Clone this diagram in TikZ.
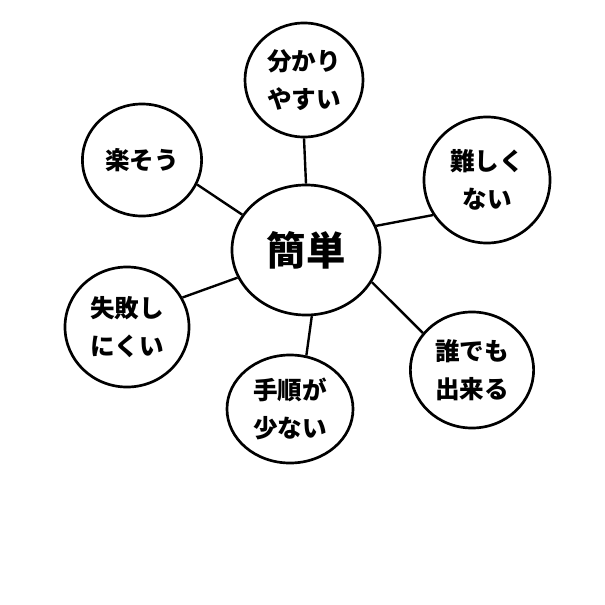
\documentclass[tikz,border=0pt]{standalone}
\usepackage{fontspec}
\newfontfamily\jp{Noto Sans CJK JP}
\usetikzlibrary{shapes.geometric}
\tikzset{
  hub/.style={draw,ellipse,line width=1.9pt,inner sep=0pt,
    minimum width=3.7cm,minimum height=3.25cm,
    font=\jp\bfseries\fontsize{28}{28}\selectfont},
  idea/.style={draw,ellipse,line width=1.9pt,inner sep=0pt,align=center,
    font=\jp\bfseries\fontsize{17.5}{27}\selectfont},
  link/.style={line width=1.7pt}
}
\begin{document}
\begin{tikzpicture}[x=0.025cm,y=-0.025cm]
    \useasboundingbox (0,0) rectangle (605,605);
    \node[hub] (kantan) at (306,250) {簡単};
    % surrounding ideas: name/x/y/width/height/text
    \foreach \name/\x/\y/\w/\h/\txt in {
      wakari/304/80/2.95/2.85/{分かり\\やすい},
      muzukashi/487/180/3.15/3.15/{難しく\\ない},
      raku/142/160/2.98/2.8/{楽そう},
      shippai/127/327/3.1/3.0/{失敗し\\にくい},
      tejun/290/409/3.15/2.7/{手順が\\少ない},
      dare/472/370/3.08/2.9/{誰でも\\出来る}}
      {
        \node[idea,minimum width=\w cm,minimum height=\h cm] (\name)
          at (\x,\y) {\txt};
      }
    \foreach \name/\a/\b in {
      wakari/90/270,muzukashi/19/213,raku/151/336,
      shippai/202/28,tejun/275/73,dare/334/143}
      \draw[link] (kantan.\a) -- (\name.\b);
  \end{tikzpicture}
\end{document}
